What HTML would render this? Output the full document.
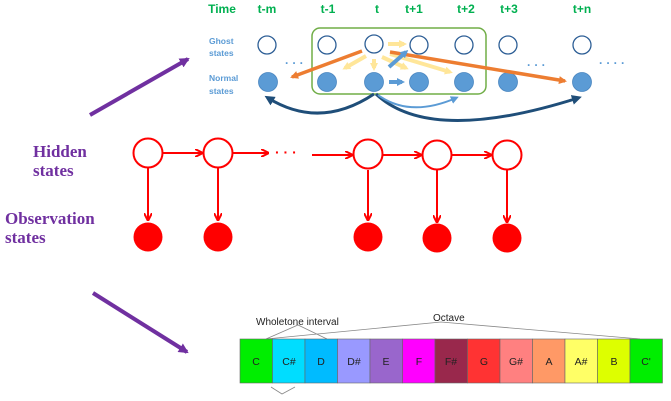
<!DOCTYPE html>
<html><head><style>body{margin:0;background:#fff}svg{display:block}</style></head><body>
<svg width="671" height="401" viewBox="0 0 671 401" xmlns="http://www.w3.org/2000/svg">
<defs>
<marker id="ar" markerWidth="8" markerHeight="8" refX="7" refY="4" orient="auto" markerUnits="userSpaceOnUse"><path d="M0,0 L8,4 L0,8" fill="none" stroke="#f00" stroke-width="2"/></marker>
<marker id="pa" markerWidth="10" markerHeight="10" refX="8" refY="5" orient="auto" markerUnits="userSpaceOnUse"><path d="M0,0 L10,5 L0,10 z" fill="#7030a0"/></marker>
<marker id="oa" markerWidth="8" markerHeight="8" refX="6" refY="4" orient="auto" markerUnits="userSpaceOnUse"><path d="M0,0 L8,4 L0,8 z" fill="#ed7d31"/></marker>
<marker id="da" markerWidth="10" markerHeight="10" refX="6" refY="5" orient="auto" markerUnits="userSpaceOnUse"><path d="M0,0 L10,5 L0,10 z" fill="#1f4e79"/></marker>
<marker id="ba" markerWidth="8" markerHeight="8" refX="5" refY="4" orient="auto" markerUnits="userSpaceOnUse"><path d="M0,0 L8,4 L0,8 z" fill="#5b9bd5"/></marker>
<marker id="ya" markerWidth="8" markerHeight="8" refX="5" refY="4" orient="auto" markerUnits="userSpaceOnUse"><path d="M0,0 L8,4 L0,8 z" fill="#ffe699"/></marker>
</defs>
<g font-family="Liberation Sans, sans-serif" font-weight="bold" font-size="12" fill="#00b050" text-anchor="middle">
<text x="222" y="13">Time</text><text x="267" y="13">t-m</text><text x="328" y="13">t-1</text><text x="377" y="13">t</text><text x="414" y="13">t+1</text><text x="466" y="13">t+2</text><text x="509" y="13">t+3</text><text x="582" y="13">t+n</text>
</g>
<g font-family="Liberation Sans, sans-serif" font-weight="bold" font-size="8.5" fill="#5b9bd5">
<text x="209" y="44">Ghost</text><text x="209" y="56">states</text>
<text x="209" y="81">Normal</text><text x="209" y="94">states</text>
</g>
<rect x="312" y="28" width="174" height="66" rx="8" fill="none" stroke="#70ad47" stroke-width="1.5"/>
<g fill="#fff" stroke="#2e5f96" stroke-width="1.3">
<circle cx="267" cy="45" r="9"/><circle cx="327" cy="45" r="9"/><circle cx="374" cy="44" r="9"/><circle cx="419" cy="45" r="9"/><circle cx="464" cy="45" r="9"/><circle cx="508" cy="45" r="9"/><circle cx="582" cy="45" r="9"/>
</g>
<g fill="#5b9bd5" stroke="#4a86c0" stroke-width="0.8">
<circle cx="268" cy="82" r="9.5"/><circle cx="327" cy="82" r="9.5"/><circle cx="374" cy="82" r="9.5"/><circle cx="419" cy="82" r="9.5"/><circle cx="464" cy="82" r="9.5"/><circle cx="508" cy="82" r="9.5"/><circle cx="582" cy="82" r="9.5"/>
</g>
<g fill="#5b9bd5" font-family="Liberation Sans, sans-serif" font-size="12" font-weight="bold">
<text x="285" y="67">· · ·</text><text x="527" y="69">· · ·</text><text x="599" y="67">· · · ·</text>
</g>
<g stroke="#ffe699" stroke-width="4" marker-end="url(#ya)">
<line x1="388" y1="44" x2="404" y2="44"/><line x1="366" y1="56" x2="345" y2="68"/><line x1="374" y1="59" x2="374" y2="68"/><line x1="382" y1="57" x2="406" y2="68"/><line x1="390" y1="54" x2="450" y2="72"/>
</g>
<path d="M362,51 L292,77" stroke="#ed7d31" stroke-width="3.5" marker-end="url(#oa)"/>
<path d="M390,52 L565,81" stroke="#ed7d31" stroke-width="3.5" marker-end="url(#oa)"/>
<line x1="389" y1="67" x2="406" y2="52" stroke="#5b9bd5" stroke-width="4" marker-end="url(#ba)"/>
<line x1="389" y1="82" x2="402" y2="82" stroke="#5b9bd5" stroke-width="4" marker-end="url(#ba)"/>
<path d="M374,94 Q320,130 268,98" fill="none" stroke="#1f4e79" stroke-width="3" marker-end="url(#da)"/>
<path d="M376,94 Q430,145 578,98" fill="none" stroke="#1f4e79" stroke-width="3" marker-end="url(#da)"/>
<path d="M378,95 Q410,118 456,98" fill="none" stroke="#5b9bd5" stroke-width="2" marker-end="url(#ba)"/>
<line x1="90" y1="115" x2="188" y2="59" stroke="#7030a0" stroke-width="4" marker-end="url(#pa)"/>
<line x1="93" y1="293" x2="187" y2="352" stroke="#7030a0" stroke-width="4" marker-end="url(#pa)"/>
<g font-family="Liberation Serif, serif" font-weight="bold" font-size="17" fill="#7030a0">
<text x="33" y="157">Hidden</text><text x="33" y="176">states</text>
<text x="5" y="224">Observation</text><text x="5" y="243">states</text>
</g>
<g stroke="#f00" stroke-width="2" fill="none">
<line x1="163" y1="153" x2="202" y2="153" marker-end="url(#ar)"/>
<line x1="233" y1="153" x2="268" y2="153" marker-end="url(#ar)"/>
<line x1="312" y1="155" x2="352" y2="155" marker-end="url(#ar)"/>
<line x1="383" y1="155" x2="421" y2="155" marker-end="url(#ar)"/>
<line x1="452" y1="155" x2="491" y2="155" marker-end="url(#ar)"/>
<line x1="148" y1="168" x2="148" y2="220" marker-end="url(#ar)"/>
<line x1="218" y1="168" x2="218" y2="220" marker-end="url(#ar)"/>
<line x1="368" y1="170" x2="368" y2="220" marker-end="url(#ar)"/>
<line x1="437" y1="170" x2="437" y2="222" marker-end="url(#ar)"/>
<line x1="507" y1="170" x2="507" y2="222" marker-end="url(#ar)"/>
<circle cx="148" cy="153" r="14.5" fill="#fff"/><circle cx="218" cy="153" r="14.5" fill="#fff"/><circle cx="368" cy="154" r="14.5" fill="#fff"/><circle cx="437" cy="155" r="14.5" fill="#fff"/><circle cx="507" cy="155" r="14.5" fill="#fff"/>
</g>
<text x="275" y="157" fill="#f00" font-family="Liberation Sans, sans-serif" font-weight="bold" font-size="14">· · ·</text>
<g fill="#f00">
<circle cx="148" cy="237" r="14.5"/><circle cx="218" cy="237" r="14.5"/><circle cx="368" cy="237" r="14.5"/><circle cx="437" cy="238" r="14.5"/><circle cx="507" cy="238" r="14.5"/>
</g>
<g stroke="#888" stroke-width="0.8" fill="none">
<polyline points="266,339 298,325 327,339"/>
<polyline points="266,339 441,322 640,339"/>
<polyline points="271,387 282,394 295,387"/>
</g>
<g font-family="Liberation Sans, sans-serif" font-size="10" fill="#222">
<text x="256" y="325">Wholetone interval</text><text x="433" y="321">Octave</text>
</g>
<g stroke="#666" stroke-width="0.6" font-family="Liberation Sans, sans-serif" font-size="10.5">
<rect x="240" y="339" width="32.5" height="44" fill="#00ee00"/>
<rect x="272.5" y="339" width="32.5" height="44" fill="#00ddff"/>
<rect x="305" y="339" width="32.5" height="44" fill="#00bbff"/>
<rect x="337.5" y="339" width="32.5" height="44" fill="#9999ff"/>
<rect x="370" y="339" width="32.5" height="44" fill="#9966cc"/>
<rect x="402.5" y="339" width="32.5" height="44" fill="#ff00ff"/>
<rect x="435" y="339" width="32.5" height="44" fill="#99284c"/>
<rect x="467.5" y="339" width="32.5" height="44" fill="#ff3333"/>
<rect x="500" y="339" width="32.5" height="44" fill="#ff8080"/>
<rect x="532.5" y="339" width="32.5" height="44" fill="#ff9966"/>
<rect x="565" y="339" width="32.5" height="44" fill="#ffff66"/>
<rect x="597.5" y="339" width="32.5" height="44" fill="#ddff00"/>
<rect x="630" y="339" width="32.5" height="44" fill="#00ee00"/>
</g>
<g font-family="Liberation Sans, sans-serif" font-size="10.5" fill="#222" text-anchor="middle">
<text x="256" y="365">C</text><text x="289" y="365">C#</text><text x="321" y="365">D</text><text x="354" y="365">D#</text><text x="386" y="365">E</text><text x="419" y="365">F</text><text x="451" y="365">F#</text><text x="484" y="365">G</text><text x="516" y="365">G#</text><text x="549" y="365">A</text><text x="581" y="365">A#</text><text x="614" y="365">B</text><text x="646" y="365">C'</text>
</g>
</svg>
</body></html>
